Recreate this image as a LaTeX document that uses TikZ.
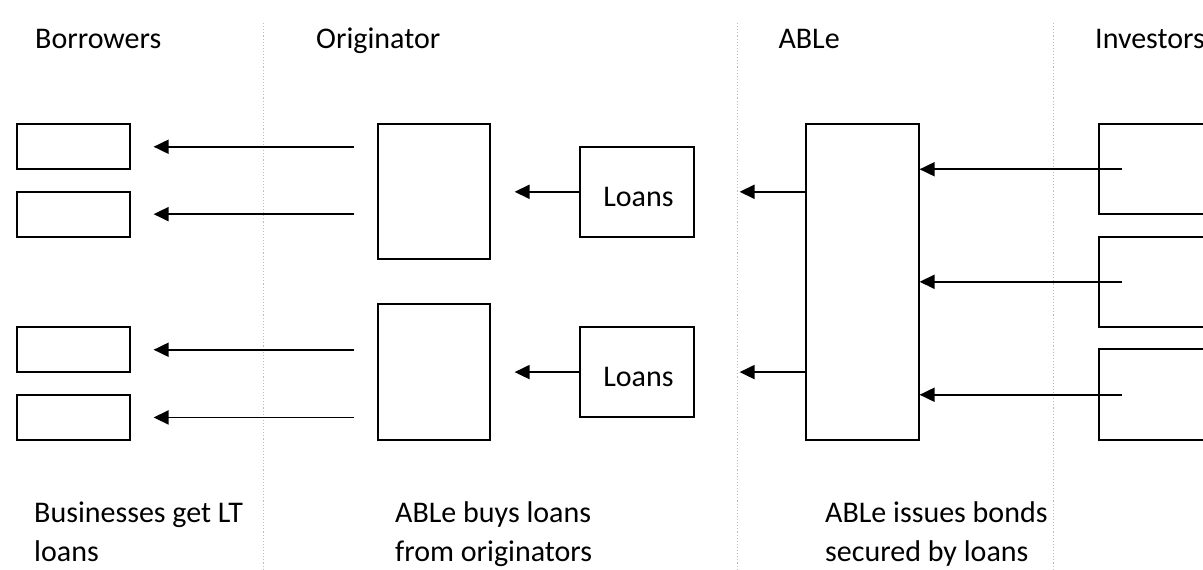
\documentclass[tikz,border=0pt]{standalone}
\usepackage{fontspec}
\setmainfont{Carlito}
\usetikzlibrary{arrows.meta,calc}
\definecolor{sepgray}{HTML}{BDBDBD}
\tikzset{
  boxn/.style={draw=black, line width=1.9pt, inner sep=0pt, anchor=north west},
  arr/.style={line width=1.9pt, -{Triangle[length=15pt,width=14pt]}},
  sep/.style={draw=sepgray, line width=1.1pt, dotted},
  lbl/.style={font=\fontsize{30pt}{36pt}\selectfont, inner sep=0pt, anchor=base west},
  loanlbl/.style={font=\fontsize{30pt}{36pt}\selectfont, inner sep=0pt}
}
\begin{document}
\begin{tikzpicture}[x=1pt,y=-1pt]
\useasboundingbox (0,0) rectangle (1203,570);
\clip (0,0) rectangle (1203,570);
% separators
\coordinate (s1t) at (263.7,23); \coordinate (s1b) at (263.7,570);
\coordinate (s2t) at (737.3,23); \coordinate (s2b) at (737.3,570);
\coordinate (s3t) at (1053.3,23); \coordinate (s3b) at (1053.3,570);
\draw[sep] (s1t) -- (s1b);
\draw[sep] (s2t) -- (s2b);
\draw[sep] (s3t) -- (s3b);
% titles
\node[lbl] (tb) at (35,48.3) {Borrowers};
\node[lbl] (to) at (316,48.3) {Originator};
\node[lbl] (ta) at (778.3,48.3) {ABLe};
\node[lbl] (ti) at (1095,48.3) {Investors};
% borrower boxes
\node[boxn, minimum width=113pt, minimum height=45pt] (b1) at (15.7,123.3) {};
\node[boxn, minimum width=113pt, minimum height=45pt] (b2) at (15.7,190.7) {};
\node[boxn, minimum width=113pt, minimum height=45pt] (b3) at (15.7,326.3) {};
\node[boxn, minimum width=113pt, minimum height=45pt] (b4) at (15.7,394) {};
% originator boxes
\node[boxn, minimum width=112.6pt, minimum height=135pt] (o1) at (376.7,123.3) {};
\node[boxn, minimum width=112.6pt, minimum height=136pt] (o2) at (376.7,303.3) {};
% loans boxes
\node[boxn, minimum width=113.4pt, minimum height=90.3pt] (l1) at (579.3,145.7) {};
\node[boxn, minimum width=113.4pt, minimum height=89.7pt] (l2) at (579.3,326.3) {};
\node[loanlbl] (l1t) at ([xshift=1.5pt,yshift=-5pt]l1.center) {Loans};
\node[loanlbl] (l2t) at ([xshift=1.5pt,yshift=-5pt]l2.center) {Loans};
% ABLe box
\node[boxn, minimum width=112.7pt, minimum height=315.7pt] (able) at (805,123.3) {};
% investor boxes
\node[boxn, minimum width=140pt, minimum height=90pt] (i1) at (1098,123.3) {};
\node[boxn, minimum width=140pt, minimum height=90.3pt] (i2) at (1098,235.7) {};
\node[boxn, minimum width=140pt, minimum height=91pt] (i3) at (1098,348.3) {};
% originator -> borrowers
\draw[arr, shorten <=22.4pt, shorten >=23pt] (o1.west |- b1.east) -- (b1.east);
\draw[arr, shorten <=22.4pt, shorten >=23pt] (o1.west |- b2.east) -- (b2.east);
\draw[arr, shorten <=22.4pt, shorten >=23pt] (o2.west |- b3.east) -- (b3.east);
\draw[arr, shorten <=22.4pt, shorten >=23pt] (o2.west |- b4.east) -- (b4.east);
% loans -> originator
\draw[arr, shorten >=23.4pt] (l1.west) -- (o1.east |- l1.west);
\draw[arr, shorten >=23.4pt] (l2.west) -- (o2.east |- l2.west);
% ABLe -> loans
\draw[arr, shorten >=45pt] (able.west |- l1.east) -- (l1.east);
\draw[arr, shorten >=45pt] (able.west |- l2.east) -- (l2.east);
% investors -> ABLe
\coordinate (i1s) at ([xshift=23.7pt]i1.west);
\coordinate (i2s) at ([xshift=23.7pt]i2.west);
\coordinate (i3s) at ([xshift=23.7pt]i3.west);
\draw[arr] (i1s) -- (able.east |- i1s);
\draw[arr] (i2s) -- (able.east |- i2s);
\draw[arr] (i3s) -- (able.east |- i3s);
% captions
\node[lbl] (c1a) at (34,522) {Businesses get LT};
\node[lbl] (c1b) at (34,561.5) {loans};
\node[lbl] (c2a) at (395,522) {ABLe buys loans};
\node[lbl] (c2b) at (395,561.5) {from originators};
\node[lbl] (c3a) at (825,522) {ABLe issues bonds};
\node[lbl] (c3b) at (825,561.5) {secured by loans};
\end{tikzpicture}
\end{document}
